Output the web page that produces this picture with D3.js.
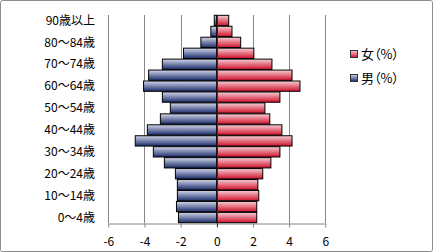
<!DOCTYPE html>
<html>
<head>
<meta charset="utf-8">
<script src="https://cdn.jsdelivr.net/npm/d3@7"></script>
<style>
  body { margin: 0; background: #fff; }
  text { font-family: "Noto Sans CJK JP", "Noto Sans", sans-serif; fill: #000; font-feature-settings: "palt"; }
</style>
</head>
<body>
<div id="chart"></div>
<script>
///////////////////////////////////////////////////////////////////////////
/////////////////////////////////// Data //////////////////////////////////
///////////////////////////////////////////////////////////////////////////

//Age groups, youngest first
var ageGroups = ["0～4歳", "5～9歳", "10～14歳", "15～19歳", "20～24歳", "25～29歳",
                 "30～34歳", "35～39歳", "40～44歳", "45～49歳", "50～54歳", "55～59歳",
                 "60～64歳", "65～69歳", "70～74歳", "75～79歳", "80～84歳", "85～89歳", "90歳以上"];

//Male shares are plotted to the left, so they are kept negative
var male = [-2.12, -2.23, -2.18, -2.18, -2.29, -2.90, -3.51, -4.51, -3.84, -3.12,
            -2.57, -3.01, -4.05, -3.77, -3.01, -1.84, -0.88, -0.33, -0.14];
var female = [2.21, 2.21, 2.32, 2.27, 2.54, 2.99, 3.49, 4.16, 3.60, 2.93,
              2.66, 3.49, 4.60, 4.16, 3.05, 2.05, 1.32, 0.84, 0.66];

var xTicks = [-6, -4, -2, 0, 2, 4, 6];
var seriesNames = ["女（%）", "男（%）"];

///////////////////////////////////////////////////////////////////////////
//////////////////////////////// Set up svg ///////////////////////////////
///////////////////////////////////////////////////////////////////////////

var width = 433, height = 252;

var svg = d3.select("#chart").append("svg")
    .attr("width", width)
    .attr("height", height);

//Gradients - light on top, dark at the bottom
var defs = svg.append("defs");
function addGradient(id, top, bottom) {
    var g = defs.append("linearGradient").attr("id", id)
        .attr("x1", 0).attr("y1", 0).attr("x2", 0).attr("y2", 1);
    g.append("stop").attr("offset", "0%").attr("stop-color", top);
    g.append("stop").attr("offset", "100%").attr("stop-color", bottom);
}
addGradient("gradMale", "#d4d8ec", "#1a2c6a");
addGradient("gradFemale", "#f6d0d6", "#d0102a");

//Chart border
svg.append("rect")
    .attr("x", 0.5).attr("y", 0.5)
    .attr("width", width - 1).attr("height", height - 1)
    .attr("rx", 2)
    .style("fill", "#fff")
    .style("stroke", "#8c8c8c");

///////////////////////////////////////////////////////////////////////////
////////////////////////////////// Scales /////////////////////////////////
///////////////////////////////////////////////////////////////////////////

var plotTop = 15, plotBottom = 223;

var x = d3.scaleLinear()
    .domain([-6, 6])
    .range([108.3, 325.3]);

var y = d3.scaleBand()
    .domain(ageGroups.slice().reverse())
    .range([plotTop, plotBottom])
    .paddingInner(0.06)
    .paddingOuter(0.03);

//Gridlines
svg.append("g").selectAll("line")
    .data(xTicks)
    .enter().append("line")
    .attr("x1", function(d) { return Math.round(x(d)) + 0.5; })
    .attr("x2", function(d) { return Math.round(x(d)) + 0.5; })
    .attr("y1", plotTop)
    .attr("y2", plotBottom)
    .style("stroke", "#868686");

//Bottom axis
var xAxis = svg.append("g")
    .attr("transform", "translate(0," + (plotBottom + 0.5) + ")")
    .call(d3.axisBottom(x).tickValues(xTicks).tickSizeInner(4).tickSizeOuter(0).tickPadding(10)
        .tickFormat(d3.format("d")));
xAxis.select(".domain").style("stroke", "#868686");
xAxis.selectAll(".tick line").style("stroke", "#868686");
xAxis.selectAll("text")
    .style("font-size", "12px")
    .style("font-family", "'Noto Sans CJK JP', sans-serif")
    .text(function(d) { return d < 0 ? "-" + Math.abs(d) : d; });

///////////////////////////////////////////////////////////////////////////
/////////////////////////////////// Bars //////////////////////////////////
///////////////////////////////////////////////////////////////////////////

function drawBars(values, fill) {
    svg.append("g").selectAll("rect")
        .data(values)
        .enter().append("rect")
        .attr("x", function(d) { return x(Math.min(0, d)); })
        .attr("width", function(d) { return Math.abs(x(d) - x(0)); })
        .attr("y", function(d, i) { return y(ageGroups[i]); })
        .attr("height", y.bandwidth())
        .style("fill", fill)
        .style("stroke", "#000")
        .style("stroke-width", 1);
}
drawBars(male, "url(#gradMale)");
drawBars(female, "url(#gradFemale)");

//Zero line
svg.append("line")
    .attr("x1", Math.round(x(0)) + 0.5).attr("x2", Math.round(x(0)) + 0.5)
    .attr("y1", plotTop).attr("y2", plotBottom + 4)
    .style("stroke", "#333");

//Category labels - every other group
svg.append("g").selectAll("text")
    .data(ageGroups.filter(function(d, i) { return i % 2 === 0; }))
    .enter().append("text")
    .attr("x", 95)
    .attr("y", function(d) { return y(d) + y.bandwidth() / 2; })
    .attr("dy", "0.35em")
    .attr("text-anchor", "end")
    .style("font-size", "12px")
    .text(function(d) { return d; });

///////////////////////////////////////////////////////////////////////////
////////////////////////////////// Legend /////////////////////////////////
///////////////////////////////////////////////////////////////////////////

var legend = svg.append("g").selectAll("g")
    .data(seriesNames)
    .enter().append("g")
    .attr("transform", function(d, i) { return "translate(350," + (54 + i * 24) + ")"; });

legend.append("rect")
    .attr("x", 0.5).attr("y", -3.5)
    .attr("width", 7).attr("height", 7)
    .style("fill", function(d, i) { return i === 0 ? "url(#gradFemale)" : "url(#gradMale)"; })
    .style("stroke", "#333");

legend.append("text")
    .attr("x", 11)
    .attr("dy", "0.35em")
    .style("font-size", "13px")
    .text(function(d) { return d; });
</script>
</body>
</html>
